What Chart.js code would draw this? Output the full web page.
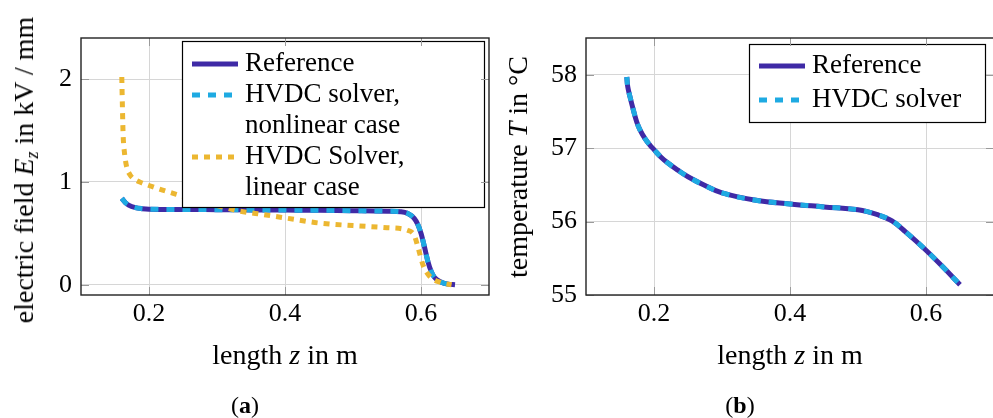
<!DOCTYPE html>
<html>
<head>
<meta charset="utf-8">
<script src="https://cdn.jsdelivr.net/npm/chart.js@4"></script>
<style>
  body { margin: 0; width: 993px; height: 418px; background: #fff; overflow: hidden; position: relative;
         font-family: "Liberation Serif", serif; color: #000; }
  canvas { position: absolute; top: 0; }
  .lbl { position: absolute; font-size: 28px; white-space: nowrap; transform: translate(-50%, -50%); line-height: 1; }
  .rot { transform: translate(-50%, -50%) rotate(-90deg); }
  .cap { font-size: 24px; }
  sub { font-size: 18px; vertical-align: -5px; line-height: 0; }
</style>
</head>
<body>
<canvas id="fieldChart" width="497" height="340" style="left:0"></canvas>
<canvas id="tempChart" width="497" height="340" style="left:497px"></canvas>

<div class="lbl rot" style="left:24px; top:170px">electric field <i>E<sub>z</sub></i> in kV / mm</div>
<div class="lbl" style="left:285px; top:355px">length <i>z</i> in m</div>
<div class="lbl cap" style="left:245px; top:405px">(<b>a</b>)</div>

<div class="lbl rot" style="left:518px; top:167px">temperature <i>T</i> in °C</div>
<div class="lbl" style="left:790px; top:355px">length <i>z</i> in m</div>
<div class="lbl cap" style="left:740px; top:405px">(<b>b</b>)</div>

<script>
// (a) electric field along the cable, kV/mm
const zRef = [0.16, 0.165, 0.17, 0.18, 0.19, 0.2, 0.25, 0.3, 0.35, 0.4, 0.45, 0.5, 0.55, 0.57, 0.58, 0.59, 0.595, 0.6, 0.605, 0.61, 0.615, 0.62, 0.63, 0.64, 0.65];
const eRef = [0.84, 0.8, 0.775, 0.75, 0.74, 0.735, 0.732, 0.73, 0.728, 0.726, 0.724, 0.72, 0.715, 0.71, 0.695, 0.645, 0.59, 0.5, 0.37, 0.23, 0.13, 0.07, 0.025, 0.006, 0.0];
const zNonlin = [0.16, 0.165, 0.17, 0.18, 0.19, 0.2, 0.25, 0.3, 0.35, 0.4, 0.45, 0.5, 0.55, 0.57, 0.58, 0.59, 0.595, 0.6, 0.605, 0.61, 0.615, 0.62, 0.63, 0.64, 0.65];
const eNonlin = [0.84, 0.8, 0.775, 0.75, 0.74, 0.735, 0.732, 0.73, 0.728, 0.726, 0.724, 0.72, 0.715, 0.71, 0.695, 0.645, 0.59, 0.5, 0.37, 0.23, 0.13, 0.07, 0.025, 0.006, 0.0];
const zLin = [0.16, 0.161, 0.162, 0.164, 0.167, 0.172, 0.18, 0.19, 0.2, 0.22, 0.25, 0.28, 0.3, 0.33, 0.36, 0.4, 0.45, 0.5, 0.55, 0.58, 0.59, 0.597, 0.603, 0.613, 0.63, 0.645];
const eLin = [2.02, 1.7, 1.45, 1.28, 1.15, 1.07, 1.02, 0.99, 0.965, 0.92, 0.86, 0.8, 0.77, 0.72, 0.69, 0.65, 0.6, 0.575, 0.555, 0.53, 0.48, 0.33, 0.19, 0.08, 0.02, 0.0];

// (b) temperature along the cable, degC
const zTemp = [0.16, 0.1613, 0.1647, 0.1696, 0.1745, 0.1794, 0.1868, 0.1941, 0.2, 0.21, 0.22, 0.235, 0.25, 0.275, 0.3, 0.35, 0.4, 0.45, 0.5, 0.53, 0.55, 0.57, 0.6, 0.625, 0.65];
const tRef = [57.97, 57.84, 57.7, 57.52, 57.36, 57.25, 57.13, 57.04, 56.98, 56.88, 56.8, 56.7, 56.61, 56.49, 56.39, 56.29, 56.24, 56.2, 56.16, 56.09, 56.01, 55.86, 55.61, 55.38, 55.14];
const tSolver = [57.97, 57.84, 57.7, 57.52, 57.36, 57.25, 57.13, 57.04, 56.98, 56.88, 56.8, 56.7, 56.61, 56.49, 56.39, 56.29, 56.24, 56.2, 56.16, 56.09, 56.01, 55.86, 55.61, 55.38, 55.14];

const xTicks = [0.2, 0.4, 0.6];
const fieldTicks = [0, 1, 2];
const tempTicks = [55, 56, 57, 58];

const BLUE = '#3f2aa6';
const CYAN = '#1eaae2';
const YELLOW = '#ecb731';
const FONT = "'Liberation Serif', serif";

Chart.defaults.font.family = FONT;
Chart.defaults.font.size = 26;
Chart.defaults.color = '#000';

const pts = (xs, ys) => xs.map((x, i) => ({ x: x, y: ys[i] }));

// white legend box drawn over the curves, labels may wrap with \n
const legendBox = {
    id: 'legendBox',
    afterDatasetsDraw(chart, args, o) {
        const ctx = chart.ctx;
        ctx.save();
        ctx.fillStyle = '#fff';
        ctx.fillRect(o.x, o.y, o.w, o.h);
        ctx.strokeStyle = '#000';
        ctx.lineWidth = 1.2;
        ctx.strokeRect(o.x + 0.5, o.y + 0.5, o.w, o.h);
        ctx.font = '27px ' + FONT;
        ctx.textBaseline = 'middle';
        ctx.fillStyle = '#000';
        let y = o.y + o.first;
        chart.data.datasets.forEach(ds => {
            ctx.strokeStyle = ds.borderColor;
            ctx.lineWidth = ds.borderWidth;
            ctx.setLineDash(ds.borderDash || []);
            ctx.beginPath();
            ctx.moveTo(o.x + 10, y);
            ctx.lineTo(o.x + 56, y);
            ctx.stroke();
            ds.label.split('\n').forEach(line => {
                ctx.fillText(line, o.x + 63, y);
                y += o.lh;
            });
        });
        ctx.restore();
    }
};

// pgfplots-like frame with inner tick marks
const frame = {
    id: 'frame',
    afterDraw(chart) {
        const { ctx, chartArea: a, scales } = chart;
        ctx.save();
        ctx.strokeStyle = '#9a9a9a';
        ctx.lineWidth = 1;
        scales.x.ticks.forEach(t => {
            const px = Math.round(scales.x.getPixelForValue(t.value)) + 0.5;
            ctx.beginPath();
            ctx.moveTo(px, a.bottom); ctx.lineTo(px, a.bottom - 8);
            ctx.moveTo(px, a.top); ctx.lineTo(px, a.top + 8);
            ctx.stroke();
        });
        scales.y.ticks.forEach(t => {
            const py = Math.round(scales.y.getPixelForValue(t.value)) + 0.5;
            ctx.beginPath();
            ctx.moveTo(a.left, py); ctx.lineTo(a.left + 8, py);
            ctx.moveTo(a.right, py); ctx.lineTo(a.right - 8, py);
            ctx.stroke();
        });
        ctx.strokeStyle = '#222';
        ctx.lineWidth = 1.4;
        ctx.strokeRect(a.left, a.top, a.right - a.left, a.bottom - a.top);
        ctx.restore();
    }
};

function makeOptions(yMin, yMax, yTicks, yWidth, pad, legend) {
    return {
        responsive: false,
        animation: false,
        layout: { padding: pad },
        elements: { point: { radius: 0 }, line: { tension: 0.4, fill: false } },
        plugins: { legend: { display: false }, tooltip: { enabled: false }, legendBox: legend },
        scales: {
            x: {
                type: 'linear', min: 0.1, max: 0.7,
                afterBuildTicks: s => { s.ticks = xTicks.map(v => ({ value: v })); },
                afterFit: s => { s.height = 45; },
                ticks: { padding: 4, callback: v => v.toFixed(1) },
                grid: { color: '#d6d6d6', drawTicks: false },
                border: { display: false }
            },
            y: {
                min: yMin, max: yMax,
                afterBuildTicks: s => { s.ticks = yTicks.map(v => ({ value: v })); },
                afterFit: s => { s.width = yWidth; },
                ticks: { padding: 9 },
                grid: { color: '#d6d6d6', drawTicks: false },
                border: { display: false }
            }
        }
    };
}

new Chart(document.getElementById('fieldChart'), {
    type: 'line',
    data: {
        datasets: [
            { label: 'Reference', data: pts(zRef, eRef), borderColor: BLUE, borderWidth: 5, order: 2, cubicInterpolationMode: 'monotone' },
            { label: 'HVDC solver,\nnonlinear case', data: pts(zNonlin, eNonlin), borderColor: CYAN, borderWidth: 5, borderDash: [8, 8], order: 1, cubicInterpolationMode: 'monotone' },
            { label: 'HVDC Solver,\nlinear case', data: pts(zLin, eLin), borderColor: YELLOW, borderWidth: 5, borderDash: [6, 6], order: 0, cubicInterpolationMode: 'monotone' }
        ]
    },
    options: makeOptions(-0.1, 2.4, fieldTicks, 81, { top: 38, right: 8, left: 0, bottom: 0 },
        { x: 182, y: 41, w: 302, h: 166, first: 23, lh: 31 }),
    plugins: [legendBox, frame]
});

new Chart(document.getElementById('tempChart'), {
    type: 'line',
    data: {
        datasets: [
            { label: 'Reference', data: pts(zTemp, tRef), borderColor: BLUE, borderWidth: 5, order: 1 },
            { label: 'HVDC solver', data: pts(zTemp, tSolver), borderColor: CYAN, borderWidth: 5, borderDash: [8, 8], order: 0 }
        ]
    },
    options: makeOptions(55, 58.5, tempTicks, 89, { top: 38, right: 0, left: 0, bottom: 0 },
        { x: 252, y: 44, w: 236, h: 78, first: 22, lh: 34 }),
    plugins: [legendBox, frame]
});
</script>
</body>
</html>
